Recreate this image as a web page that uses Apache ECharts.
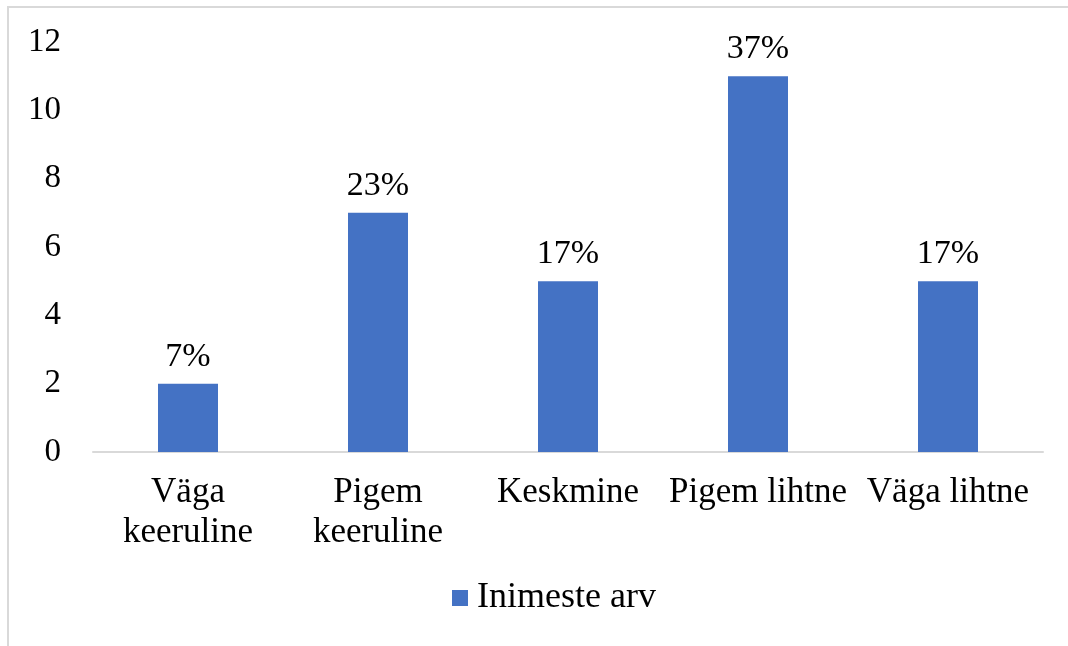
<!DOCTYPE html>
<html>
<head>
<meta charset="UTF-8">
<script src="https://cdn.jsdelivr.net/npm/echarts@6/dist/echarts.min.js"></script>
<style>
	html, body { margin: 0; padding: 0; background: #fff; }
	#frame {
		position: absolute; left: 7px; top: 6px; width: 1070px; height: 660px;
		border-left: 2px solid #d9d9d9; border-top: 2px solid #d9d9d9;
	}
	#chart { position: absolute; left: 0; top: 0; width: 1068px; height: 646px; }
</style>
</head>
<body>
<div id="frame"></div>
<div id="chart"></div>
<script type="text/javascript">
	// andmed
	var categories = ['Väga\nkeeruline', 'Pigem\nkeeruline', 'Keskmine', 'Pigem lihtne', 'Väga lihtne'];
	var counts = [2, 7, 5, 11, 5];
	var percentLabels = ['7%', '23%', '17%', '37%', '17%'];
	var seriesName = 'Inimeste arv';
	var yTicks = [0, 2, 4, 6, 8, 10, 12];

	var fontFam = '"Liberation Serif", "Times New Roman", serif';
	var chart = echarts.init(document.getElementById('chart'));

	var option = {
		animation: false,
		textStyle: { fontFamily: fontFam },
		legend: {
			bottom: 25,
			left: 447,
			data: [{ name: seriesName, icon: 'rect' }],
			itemWidth: 16,
			itemHeight: 16,
			textStyle: { fontFamily: fontFam, fontSize: 36, color: '#000', padding: [0, 0, 0, 4] }
		},
		grid: { left: 93, right: 25, top: 42, bottom: 194 },
		xAxis: {
			type: 'category',
			data: categories,
			axisLine: { lineStyle: { color: '#d9d9d9', width: 2 } },
			axisTick: { show: false },
			axisLabel: {
				fontFamily: fontFam, fontSize: 35, color: '#000',
				lineHeight: 40, margin: 21, interval: 0
			}
		},
		yAxis: {
			type: 'value',
			min: yTicks[0],
			max: yTicks[yTicks.length - 1],
			interval: 2,
			splitLine: { show: false },
			axisLine: { show: false },
			axisTick: { show: false },
			axisLabel: { fontFamily: fontFam, fontSize: 33, color: '#000', margin: 32 }
		},
		series: [{
			name: seriesName,
			type: 'bar',
			data: counts,
			barWidth: 60,
			itemStyle: { color: '#4472C4' },
			label: {
				show: true,
				position: 'top',
				distance: 10,
				fontFamily: fontFam,
				fontSize: 34,
				color: '#000',
				formatter: function (p) { return percentLabels[p.dataIndex]; }
			}
		}]
	};

	chart.setOption(option);
</script>
</body>
</html>
